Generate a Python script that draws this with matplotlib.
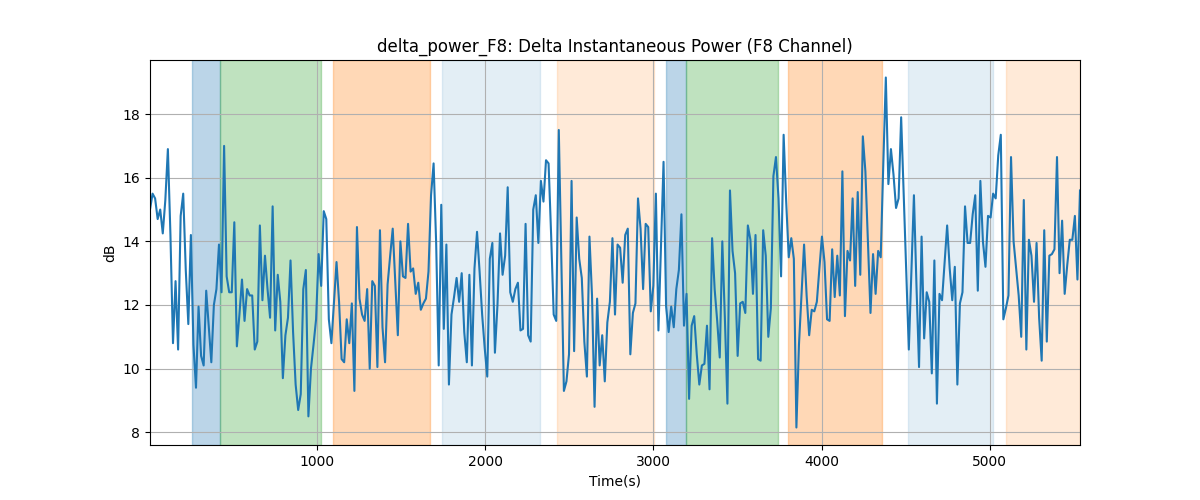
import numpy as np
import matplotlib
matplotlib.use("Agg")
import matplotlib.pyplot as plt

t_start = 7
t_end = 5536

power_db = [
    # 0 - ~1020
    15.0, 15.5, 15.35, 14.7, 15.0, 14.25, 15.3, 16.9, 14.2, 10.8, 12.75, 10.6, 14.8, 15.5, 13.1, 11.4,
    14.2, 10.75, 9.4, 11.95, 10.4, 10.1, 12.45, 11.3, 10.2, 12.0, 12.5, 13.9, 12.4, 17.0, 12.9, 12.4,
    12.4, 14.6, 10.7, 11.7, 12.8, 11.5, 12.5, 12.3, 12.3, 10.6, 10.85, 14.5, 12.15, 13.55,
    12.5, 11.6, 15.1, 11.2, 12.95, 12.1, 9.7, 11.05, 11.6, 13.4, 11.15, 9.5, 8.7, 9.2, 12.5, 13.1,
    8.5, 10.0, 10.75, 11.55, 13.6, 12.6, 14.95, 14.7, 11.55, 10.8, 12.1, 13.35, 12.1, 10.3, 10.2,
    11.55, 10.8, 12.05, 9.3, 14.45, 12.2, 11.7, 11.5, 12.5, 10.0, 12.75, 12.6, 10.05, 14.35,
    11.3, 10.2, 12.65, 13.55, 14.4, 12.75, 11.05, 14.0, 12.9, 12.85, 14.55, 13.05, 13.15, 12.35,
    12.7, 11.85, 12.05, 12.2, 13.05, 15.45, 16.45, 13.95, 10.1, 15.15, 11.25, 13.9, 9.5, 11.7,
    12.25, 12.85, 12.1, 13.0, 11.15, 10.2, 12.95, 10.1, 13.15, 14.3, 13.05, 11.7, 10.65, 9.75,
    13.45, 13.95, 10.5,
    12.0, 14.25, 12.95, 13.55, 15.7, 12.4, 12.1, 12.5, 12.7, 11.2, 11.25, 14.55, 11.05, 10.85,
    15.0, 15.45, 13.95, 15.9, 15.25, 16.55, 16.45, 14.2, 11.7, 11.5, 17.5, 13.35, 9.3, 9.6, 10.45,
    15.9, 10.55, 14.75, 13.45, 12.85, 10.85, 9.75, 14.15, 12.3, 8.8, 12.2, 10.1, 11.05, 9.6, 11.45,
    12.1, 14.1, 11.7,
    13.9, 13.8, 12.7, 14.2, 14.4, 10.45, 11.75, 12.05, 15.35, 14.4, 12.5, 14.55, 14.45, 11.8, 12.6,
    15.5, 11.2, 13.9, 16.5, 11.95, 11.15, 11.95, 11.3, 12.5, 13.1, 14.85, 11.35, 12.35, 9.05, 11.35,
    11.65, 10.45, 9.5, 10.1, 10.15, 11.35, 9.35, 14.1, 12.5, 11.5, 10.35, 14.0, 11.6, 8.9, 15.6,
    13.7, 13.0, 10.4, 12.05, 12.1, 11.75, 14.5, 14.05, 12.35, 14.2, 10.3, 10.25, 14.35, 13.55, 11.0,
    11.9, 16.05, 16.65, 15.35, 12.9, 17.35, 15.25, 13.5, 14.1, 13.45, 8.15, 10.75, 12.3, 13.9, 12.3,
    11.05, 11.85, 11.8, 12.1, 13.15, 14.15, 13.35, 11.55, 11.5, 13.75, 12.25, 13.55, 12.3, 16.2,
    11.65, 13.7,
    13.4, 15.35, 12.6, 15.55, 12.95, 17.3, 16.2, 14.0, 11.75, 13.6, 12.35, 13.7, 13.5, 16.4, 19.15,
    15.8, 16.9, 16.1, 15.05, 15.35, 17.9, 15.45, 13.05, 10.6, 13.05, 15.45, 12.6, 10.05, 14.15,
    10.95, 12.4, 12.1, 9.85, 13.4, 8.9, 12.35, 12.15, 13.35, 14.5, 13.15, 12.15, 13.2, 9.5, 12.05,
    12.4, 15.1,
    13.95, 13.95, 14.85, 15.45, 12.45, 15.9, 14.0, 13.2, 14.8, 14.75, 15.5, 15.35, 16.7, 17.35,
    11.55, 11.9, 12.3, 16.65, 14.0, 13.15, 12.3, 11.0, 15.3, 10.6, 14.05, 13.55, 12.1, 13.95, 11.6,
    10.25, 14.35, 10.85, 13.55, 13.6, 13.75, 16.65, 13.0, 14.65, 12.35, 13.25, 14.05, 14.05, 14.8,
    12.8, 15.6,
]

# shaded intervals: (start, end, colour, alpha)
span_starts = [257, 425, 1095, 1743, 2427, 3075, 3194, 3800, 4514, 5096]
span_ends = [425, 1026, 1672, 2326, 3002, 3194, 3739, 4357, 5021, 5536]
span_colors = ["tab:blue", "tab:green", "tab:orange", "tab:blue", "tab:orange",
               "tab:blue", "tab:green", "tab:orange", "tab:blue", "tab:orange"]
span_alphas = [0.3, 0.3, 0.3, 0.12, 0.16, 0.3, 0.3, 0.3, 0.12, 0.16]

time_s = np.linspace(t_start, t_end, len(power_db))

fig, ax = plt.subplots(figsize=(12, 5), dpi=100)
for s, e, c, a in zip(span_starts, span_ends, span_colors, span_alphas):
    ax.axvspan(s, e, color=c, alpha=a)
ax.plot(time_s, power_db, color="tab:blue", linewidth=1.5)
ax.set_xlim(time_s[0], time_s[-1])
ax.grid(True)
ax.set_title("delta_power_F8: Delta Instantaneous Power (F8 Channel)")
ax.set_xlabel("Time(s)")
ax.set_ylabel("dB")
fig.savefig("out.png", dpi=100)
